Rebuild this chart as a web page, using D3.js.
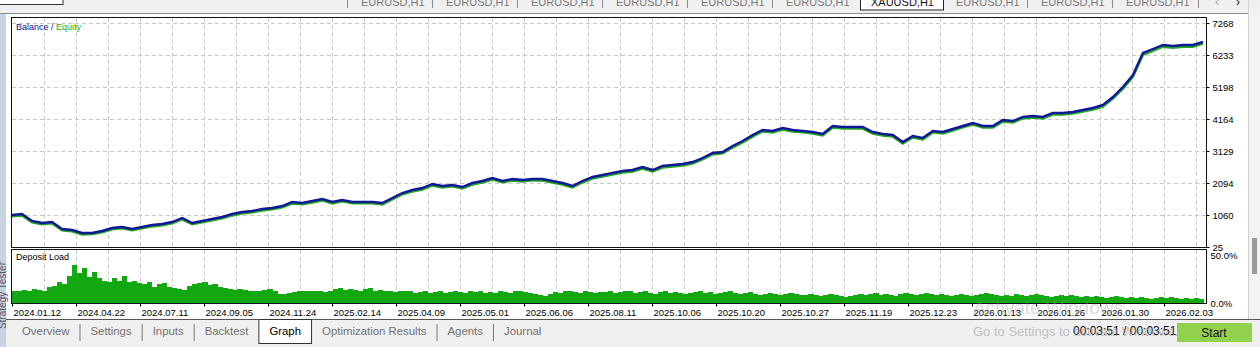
<!DOCTYPE html>
<html>
<head>
<meta charset="utf-8">
<script src="https://cdn.jsdelivr.net/npm/d3@7"></script>
<style>
  body { margin: 0; background: #fff; overflow: hidden; }
  svg text { font-family: "Liberation Sans", Arial, sans-serif; }
</style>
</head>
<body>
<div id="chart1"></div>
<script>
var w = 1260;
var h = 347;

// balance / equity, evenly spaced by deal
var balance = [
  1060,1092,866,801,833,607,575,478,478,542,
  639,672,607,672,736,769,833,963,801,866,
  930,995,1092,1157,1189,1254,1286,1351,1480,1448,
  1512,1577,1480,1545,1480,1480,1480,1448,1609,1771,
  1868,1933,2062,1997,2030,1965,2094,2159,2256,2159,
  2224,2191,2224,2224,2159,2094,1997,2159,2288,2353,
  2418,2482,2515,2612,2515,2644,2677,2709,2773,2903,
  3064,3097,3291,3453,3647,3808,3776,3873,3808,3776,
  3744,3679,3938,3905,3905,3905,3744,3679,3647,3420,
  3614,3550,3776,3744,3841,3938,4035,3938,3938,4132,
  4099,4229,4261,4229,4358,4358,4390,4455,4520,4617,
  4875,5199,5587,6298,6427,6557,6524,6557,6557,6654
];
var equity = [
  1020,1045,820,760,790,565,530,430,440,500,
  595,630,565,625,690,725,790,915,760,820,
  885,950,1045,1110,1145,1205,1240,1305,1430,1405,
  1465,1530,1435,1500,1435,1435,1440,1400,1560,1725,
  1820,1885,2015,1950,1985,1920,2045,2110,2205,2115,
  2175,2145,2180,2175,2110,2045,1950,2110,2240,2305,
  2370,2435,2465,2560,2470,2595,2630,2660,2725,2855,
  3015,3050,3240,3405,3595,3760,3730,3825,3760,3730,
  3695,3630,3890,3855,3860,3855,3695,3630,3600,3370,
  3565,3500,3730,3695,3790,3890,3985,3890,3890,4080,
  4050,4180,4210,4180,4305,4310,4340,4405,4470,4565,
  4825,5145,5530,6240,6370,6500,6470,6500,6500,6600
];
// deposit load, percent
var depositLoad = [
  12,13,14,13,15,14,13,17,
  18,22,20,28,40,
  31,36,27,32,26,
  23,22,26,23,28,22,
  23,21,20,22,17,20,
  21,17,16,15,14,18,20,21,
  22,19,20,17,16,15,14,15,14,13,
  12,13,14,15,13,9,
  9,10,11,12,13,12,
  13,12,11,13,15,16,14,15,
  14,13,15,16,12,14,13,12,11,12,13,12,
  10,11,12,10,11,13,10,11,12,11,10,12,11,13,10,11,10,12,11,10,
  12,13,11,10,9,8,7,9,11,10,12,13,11,10,12,11,10,11,
  11,12,10,11,13,12,10,11,12,10,9,11,12,10,11,10,9,10,11,12,
  10,11,9,10,11,12,10,9,10,11,9,8,9,10,9,8,9,10,9,8,
  8,9,8,7,8,9,8,7,6,7,8,9,8,9,10,8,9,8,7,9,
  10,9,8,9,10,9,8,9,8,7,8,9,8,7,8,9,10,9,8,7,
  8,7,9,8,7,8,9,8,7,6,7,8,7,8,7,6,7,6,7,6,
  5,6,7,6,5,6,5,6,5,4,5,6,5,6,5,4,5,4,5,4
];
var dateLabels = ["2024.01.12","2024.04.22","2024.07.11","2024.09.05","2024.11.24",
  "2025.02.14","2025.04.09","2025.05.01","2025.06.06","2025.08.11","2025.10.06",
  "2025.10.20","2025.10.27","2025.11.19","2025.12.23","2026.01.13","2026.01.26",
  "2026.01.30","2026.02.03"];
var yTicks = [25, 1060, 2094, 3129, 4164, 5198, 6233, 7268];
var loadTicks = [0, 50];
var symbolTabs = ["EURUSD,H1","EURUSD,H1","EURUSD,H1","EURUSD,H1","EURUSD,H1","EURUSD,H1",
  "XAUUSD,H1","EURUSD,H1","EURUSD,H1","EURUSD,H1"];
var activeSymbol = 6;
var bottomTabs = ["Overview","Settings","Inputs","Backtest","Graph","Optimization Results","Agents","Journal"];
var activeTab = 4;

var svg1;
var left = 12, right = 1206, top1 = 18, bottom1 = 247, top2 = 250, bottom2 = 303;

var xScale = d3.scaleLinear().domain([0, balance.length - 1]).range([left, 1203]);
var yScale = d3.scaleLinear().domain([25, 7268]).range([bottom1, 23]);
var loadX = d3.scaleBand().domain(d3.range(depositLoad.length)).range([left, 1204]);
var loadY = d3.scaleLinear().domain([0, 50]).range([bottom2, 255]);
var dateScale = d3.scalePoint().domain(dateLabels).range([left, left + 64 * (dateLabels.length - 1)]);
var gridScale = d3.scaleLinear().domain([0, 37]).range([left, left + 32 * 37]);

function Chrome() {
  // top symbol strip
  svg1.append("rect").attr("x", 0).attr("y", 0).attr("width", w).attr("height", 14).attr("fill", "#f0f0f0");
  svg1.append("line").attr("x1", 0).attr("x2", 1248).attr("y1", 13.5).attr("y2", 13.5).attr("stroke", "#8a8a8a");
  svg1.append("rect").attr("x", -1).attr("y", -1).attr("width", 64).attr("height", 5.5)
      .attr("fill", "#fff").attr("stroke", "#333");

  var tx = d3.scaleLinear().domain([0, 1]).range([361, 446]);
  symbolTabs.forEach(function(s, i) {
    var x = tx(i);
    if (i == activeSymbol) {
      svg1.append("rect").attr("x", x - 10.5).attr("y", -1).attr("width", 83).attr("height", 11)
          .attr("fill", "#fff").attr("stroke", "#222");
    } else if (i != activeSymbol + 1) {
      svg1.append("line").attr("x1", x - 13.5).attr("x2", x - 13.5).attr("y1", 0).attr("y2", 8)
          .attr("stroke", "#8a8a8a");
    }
    svg1.append("text").attr("x", x).attr("y", 6).text(s)
        .attr("font-size", "11px").attr("fill", i == activeSymbol ? "#111" : "#7a7a7a");
  });
  svg1.append("line").attr("x1", 1198.5).attr("x2", 1198.5).attr("y1", 0).attr("y2", 8).attr("stroke", "#8a8a8a");
  svg1.append("text").attr("x", 1215).attr("y", 6).text("\u2039").attr("font-size", "12px").attr("fill", "#aaa");
  svg1.append("text").attr("x", 1236).attr("y", 6).text("\u203a").attr("font-size", "12px").attr("fill", "#222");

  // left side strip
  svg1.append("rect").attr("x", 0).attr("y", 14).attr("width", 6).attr("height", h - 14).attr("fill", "#c6d3e1");
  svg1.append("text").attr("transform", "translate(6,262) rotate(-90)")
      .attr("text-anchor", "end").attr("font-size", "10px").attr("fill", "#556")
      .text("Strategy Tester");

  // right scrollbar
  svg1.append("rect").attr("x", 1248).attr("y", 14).attr("width", 12).attr("height", 306).attr("fill", "#f3f3f3");
  svg1.append("line").attr("x1", 1248.5).attr("x2", 1248.5).attr("y1", 0).attr("y2", 320).attr("stroke", "#d0d0d0");
  svg1.append("rect").attr("x", 1252).attr("y", 238).attr("width", 5).attr("height", 36).attr("fill", "#9a9a9a");

  // bottom tabs
  svg1.append("rect").attr("x", 6).attr("y", 320).attr("width", w).attr("height", 27).attr("fill", "#f0f0f0");
  svg1.append("line").attr("x1", 6).attr("x2", w).attr("y1", 319.5).attr("y2", 319.5).attr("stroke", "#555");
  var tabBox = svg1.append("rect").attr("fill", "#fff").attr("stroke", "#333");
  var x = 22;
  bottomTabs.forEach(function(t, i) {
    var lbl = svg1.append("text").attr("x", x).attr("y", 334.5).text(t)
        .attr("font-size", "11.4px").attr("fill", i == activeTab ? "#000" : "#707070");
    var len = lbl.node().getComputedTextLength();
    if (i == activeTab) {
      tabBox.attr("x", x - 10.5).attr("y", 319.5).attr("width", len + 21).attr("height", 24);
    } else if (i < bottomTabs.length - 1 && i + 1 != activeTab) {
      svg1.append("line").attr("x1", x + len + 10.5).attr("x2", x + len + 10.5)
          .attr("y1", 324).attr("y2", 341).attr("stroke", "#777");
    }
    x = x + len + 21;
  });

  svg1.append("text").attr("x", 1073).attr("y", 335).text("00:03:51 / 00:03:51")
      .attr("font-size", "12px").attr("fill", "#111");
  svg1.append("rect").attr("x", 1177).attr("y", 323).attr("width", 75).attr("height", 19).attr("fill", "#92d050");
  svg1.append("text").attr("x", 1214).attr("y", 337).attr("text-anchor", "middle").text("Start")
      .attr("font-size", "12px").attr("fill", "#111");
}

function Grid() {
  var g = svg1.append("g").attr("stroke", "#c8c8c8").attr("stroke-dasharray", "4,3");
  g.selectAll(".vg").data(d3.range(1, 38)).enter().append("line")
   .attr("x1", d => gridScale(d) + 0.5).attr("x2", d => gridScale(d) + 0.5)
   .attr("y1", top1).attr("y2", bottom1);
  g.selectAll(".vg2").data(d3.range(1, 38)).enter().append("line")
   .attr("x1", d => gridScale(d) + 0.5).attr("x2", d => gridScale(d) + 0.5)
   .attr("y1", top2).attr("y2", bottom2);
  g.selectAll(".hg").data(yTicks.slice(1)).enter().append("line")
   .attr("x1", left).attr("x2", right)
   .attr("y1", d => Math.round(yScale(d)) + 0.5).attr("y2", d => Math.round(yScale(d)) + 0.5);
}

function BalanceChart() {
  svg1.append("clipPath").attr("id", "clip1").append("rect")
      .attr("x", left).attr("y", top1).attr("width", right - left).attr("height", bottom1 - top1);
  var line = d3.line().x((d, i) => xScale(i)).y(d => yScale(d));
  svg1.append("path").datum(equity).attr("d", line).attr("clip-path", "url(#clip1)")
      .attr("fill", "none").attr("stroke", "#24a824").attr("stroke-width", 2.4);
  svg1.append("path").datum(balance).attr("d", line).attr("clip-path", "url(#clip1)")
      .attr("fill", "none").attr("stroke", "#0f1896").attr("stroke-width", 2.4);

  var leg = svg1.append("text").attr("x", 16).attr("y", 30).attr("font-size", "9px");
  leg.append("tspan").attr("fill", "#0d168f").text("Balance / ");
  leg.append("tspan").attr("fill", "#18b018").text("Equity");

  svg1.append("g").attr("transform", "translate(" + (right + 0.5) + ",0)")
      .call(d3.axisRight(yScale).tickValues(yTicks).tickFormat(d3.format("d")).tickSize(3).tickPadding(3))
      .call(g => g.select(".domain").remove())
      .call(g => g.selectAll("text").attr("font-size", "9.5px").attr("font-family", "Liberation Sans, Arial").attr("fill", "#000"));

  svg1.append("rect").attr("x", left - 0.5).attr("y", top1 - 0.5)
      .attr("width", right - left + 1).attr("height", bottom1 - top1 + 1)
      .attr("fill", "none").attr("stroke", "#111");
}

function LoadChart() {
  svg1.selectAll(".bar").data(depositLoad).enter().append("rect")
      .attr("x", (d, i) => loadX(i)).attr("width", loadX.bandwidth() + 0.2)
      .attr("y", d => loadY(d)).attr("height", d => bottom2 - loadY(d))
      .attr("fill", "#12a812").attr("shape-rendering", "crispEdges");

  svg1.append("text").attr("x", 16).attr("y", 260).attr("font-size", "9px").attr("fill", "#000").text("Deposit Load");

  svg1.append("g").attr("transform", "translate(" + (right + 0.5) + ",0)")
      .call(d3.axisRight(loadY).tickValues(loadTicks).tickFormat(d => d.toFixed(1) + "%").tickSize(0).tickPadding(4))
      .call(g => g.select(".domain").remove())
      .call(g => g.selectAll("text").attr("font-size", "9.5px").attr("font-family", "Liberation Sans, Arial").attr("fill", "#000"));

  svg1.append("g").attr("transform", "translate(0," + (bottom2 + 0.5) + ")")
      .call(d3.axisBottom(dateScale).tickSize(3).tickPadding(0))
      .call(g => g.select(".domain").remove())
      .call(g => g.selectAll("text").attr("text-anchor", "start").attr("dx", 1).attr("dy", 0).attr("y", 12)
                  .attr("font-size", "9.5px").attr("font-family", "Liberation Sans, Arial").attr("fill", "#000"));

  svg1.append("rect").attr("x", left - 0.5).attr("y", top2 - 0.5)
      .attr("width", right - left + 1).attr("height", bottom2 - top2 + 1)
      .attr("fill", "none").attr("stroke", "#111");
}

function Watermark() {
  svg1.append("text").attr("x", 973).attr("y", 314).text("Activate Windows")
      .attr("font-family", "Noto Sans, sans-serif").attr("font-size", "19px").attr("fill", "#999").attr("opacity", 0.35);
  svg1.append("text").attr("x", 973).attr("y", 336).text("Go to Settings to activate Windows.")
      .attr("font-family", "Noto Sans, sans-serif").attr("font-size", "13px").attr("fill", "#999").attr("opacity", 0.55);
}

function main() {
  svg1 = d3.select("#chart1").append("svg").attr("width", w).attr("height", h);
  svg1.append("rect").attr("width", w).attr("height", h).attr("fill", "#fff");
  Grid();
  LoadChart();
  BalanceChart();
  Chrome();
  Watermark();
}

window.onload = function() {
  main();
};
</script>
</body>
</html>
